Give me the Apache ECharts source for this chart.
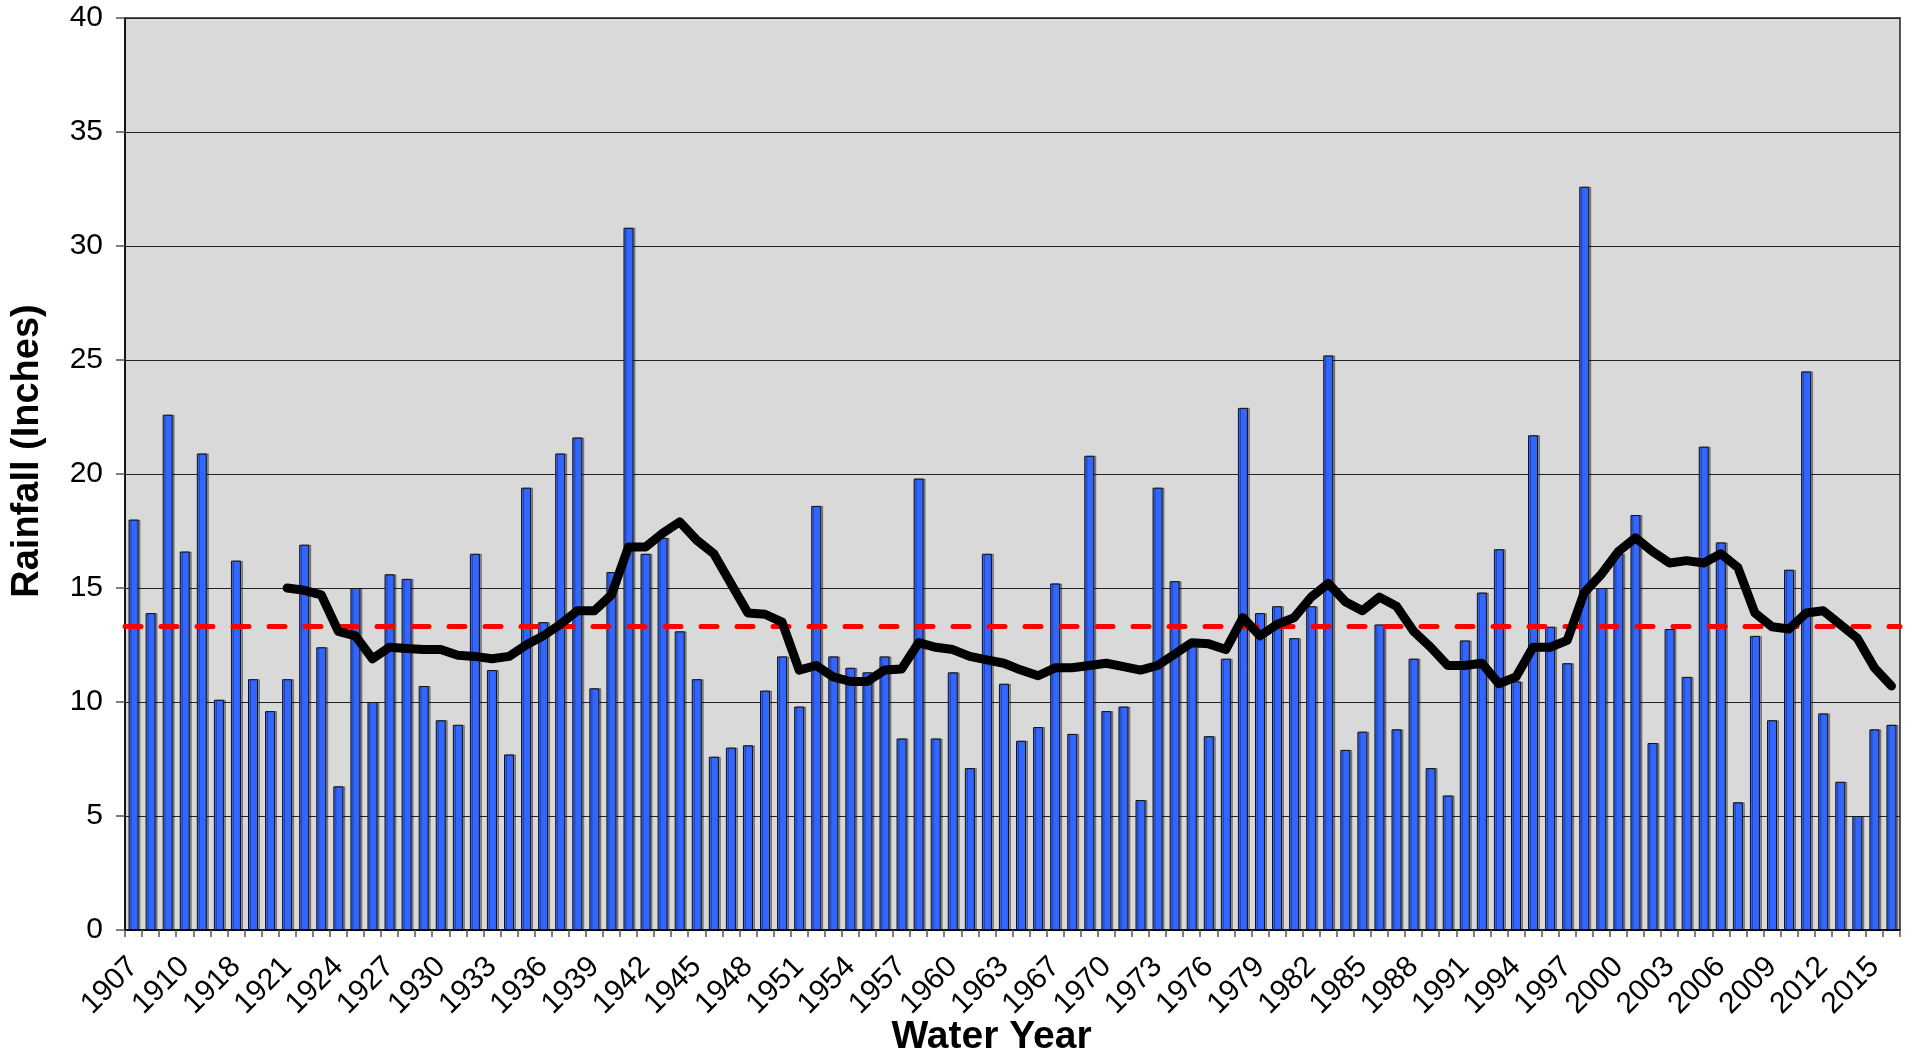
<!DOCTYPE html>
<html>
<head>
<meta charset="utf-8">
<title>Rainfall by Water Year</title>
<script src="https://cdn.jsdelivr.net/npm/echarts@6/dist/echarts.min.js"></script>
<style>
    html, body { margin: 0; padding: 0; background: #fff; }
    #chart { width: 1914px; height: 1052px; }
</style>
</head>
<body>
<div id="chart"></div>
<script>
// water years (a few early / mid years are missing in the record)
const years = [
    '1907', '1908', '1909', '1910', '1911', '1917', '1918', '1919', '1920', '1921',
    '1922', '1923', '1924', '1925', '1926', '1927', '1928', '1929', '1930', '1931',
    '1932', '1933', '1934', '1935', '1936', '1937', '1938', '1939', '1940', '1941',
    '1942', '1943', '1944', '1945', '1946', '1947', '1948', '1949', '1950', '1951',
    '1952', '1953', '1954', '1955', '1956', '1957', '1958', '1959', '1960', '1961',
    '1962', '1963', '1964', '1966', '1967', '1968', '1969', '1970', '1971', '1972',
    '1973', '1974', '1975', '1976', '1977', '1978', '1979', '1980', '1981', '1982',
    '1983', '1984', '1985', '1986', '1987', '1988', '1989', '1990', '1991', '1992',
    '1993', '1994', '1995', '1996', '1997', '1998', '1999', '2000', '2001', '2002',
    '2003', '2004', '2005', '2006', '2007', '2008', '2009', '2010', '2011', '2012',
    '2013', '2014', '2015', '2016'
];

// annual rainfall, inches
const rainfall = [
    18.0, 13.9, 22.6, 16.6, 20.9, 10.1, 16.2, 11.0, 9.6, 11.0,
    16.9, 12.4, 6.3, 15.0, 10.0, 15.6, 15.4, 10.7, 9.2, 9.0,
    16.5, 11.4, 7.7, 19.4, 13.5, 20.9, 21.6, 10.6, 15.7, 30.8,
    16.5, 17.2, 13.1, 11.0, 7.6, 8.0, 8.1, 10.5, 12.0, 9.8,
    18.6, 12.0, 11.5, 11.3, 12.0, 8.4, 19.8, 8.4, 11.3, 7.1,
    16.5, 10.8, 8.3, 8.9, 15.2, 8.6, 20.8, 9.6, 9.8, 5.7,
    19.4, 15.3, 12.5, 8.5, 11.9, 22.9, 13.9, 14.2, 12.8, 14.2,
    25.2, 7.9, 8.7, 13.4, 8.8, 11.9, 7.1, 5.9, 12.7, 14.8,
    16.7, 10.9, 21.7, 13.3, 11.7, 32.6, 15.0, 16.5, 18.2, 8.2,
    13.2, 11.1, 21.2, 17.0, 5.6, 12.9, 9.2, 15.8, 24.5, 9.5,
    6.5, 5.0, 8.8, 9.0
];

// moving average (starts at 1921)
const movingAvg = [
    null, null, null, null, null, null, null, null, null, 15.0,
    14.9, 14.7, 13.1, 12.9, 11.9, 12.4, 12.35, 12.3, 12.3, 12.05,
    12.0, 11.9, 12.0, 12.5, 12.9, 13.4, 14.0, 14.0, 14.7, 16.8,
    16.8, 17.4, 17.9, 17.1, 16.5, 15.2, 13.9, 13.85, 13.5, 11.4,
    11.6, 11.1, 10.9, 10.9, 11.4, 11.45, 12.6, 12.4, 12.3, 12.0,
    11.85, 11.7, 11.4, 11.15, 11.5, 11.5, 11.6, 11.7, 11.55, 11.4,
    11.6, 12.1, 12.6, 12.55, 12.3, 13.7, 12.9, 13.4, 13.7, 14.6,
    15.2, 14.4, 14.0, 14.6, 14.2, 13.1, 12.4, 11.6, 11.6, 11.7,
    10.8, 11.1, 12.4, 12.4, 12.7, 14.8, 15.6, 16.6, 17.2, 16.6,
    16.1, 16.2, 16.1, 16.5, 15.9, 13.9, 13.3, 13.2, 13.9, 14.0,
    13.4, 12.8, 11.5, 10.7
];

// long-term average (red dashed line)
const longTermAvg = 13.33;

const yTicks = { min: 0, max: 40, interval: 5 };

const font = 'Liberation Sans, Arial, sans-serif';

const option = {
    animation: false,
    backgroundColor: '#fff',
    textStyle: {
        fontFamily: font
    },
    grid: {
        left: 125,
        right: 14,
        top: 18,
        bottom: 122,
        outerBoundsMode: 'none',
        containLabel: false,
        show: true,
        backgroundColor: '#d9d9d9',
        borderColor: '#222',
        borderWidth: 1.5
    },
    xAxis: {
        type: 'category',
        data: years,
        boundaryGap: true,
        name: 'Water Year',
        nameLocation: 'middle',
        nameGap: 88,
        nameMoveOverlap: false,
        nameTextStyle: {
            fontFamily: font,
            fontSize: 39,
            fontWeight: 'bold',
            color: '#000',
            padding: [0, 42, 0, 0]
        },
        axisLine: {
            lineStyle: { color: '#000', width: 1.5 }
        },
        axisTick: {
            show: true,
            interval: 0,
            length: 7,
            lineStyle: { color: '#555', width: 1.5 }
        },
        axisLabel: {
            interval: 2,
            rotate: 45,
            margin: 32,
            fontSize: 30,
            color: '#000'
        },
        splitLine: { show: false }
    },
    yAxis: {
        type: 'value',
        min: yTicks.min,
        max: yTicks.max,
        interval: yTicks.interval,
        name: 'Rainfall (Inches)',
        nameLocation: 'middle',
        nameGap: 78,
        nameMoveOverlap: false,
        nameRotate: 90,
        nameTextStyle: {
            fontFamily: font,
            fontSize: 38,
            fontWeight: 'bold',
            color: '#000',
            padding: [0, 0, 0, 46]
        },
        axisLine: {
            show: true,
            lineStyle: { color: '#000', width: 1.5 }
        },
        axisTick: {
            show: true,
            length: 9,
            lineStyle: { color: '#555', width: 1.5 }
        },
        axisLabel: {
            margin: 22,
            fontSize: 30,
            color: '#000'
        },
        splitLine: {
            lineStyle: { color: '#222', width: 1.2 }
        }
    },
    series: [
        {
            name: 'Rainfall',
            type: 'bar',
            data: rainfall,
            barWidth: 10,
            itemStyle: {
                color: '#3366ff',
                borderColor: '#111',
                borderWidth: 1,
                shadowColor: 'rgba(0,0,0,0.35)',
                shadowOffsetX: 2,
                shadowBlur: 0
            },
            markLine: {
                silent: true,
                symbol: 'none',
                label: { show: false },
                lineStyle: {
                    color: '#ff0000',
                    width: 5,
                    type: [16, 20],
                    cap: 'round'
                },
                data: [{ yAxis: longTermAvg }]
            },
            z: 2
        },
        {
            name: 'Moving Average',
            type: 'line',
            data: movingAvg,
            showSymbol: false,
            symbol: 'none',
            lineStyle: {
                color: '#000',
                width: 9,
                join: 'round',
                cap: 'round'
            },
            z: 5
        }
    ]
};

const chart = echarts.init(document.getElementById('chart'), null, { renderer: 'canvas' });
chart.setOption(option);
</script>
</body>
</html>
